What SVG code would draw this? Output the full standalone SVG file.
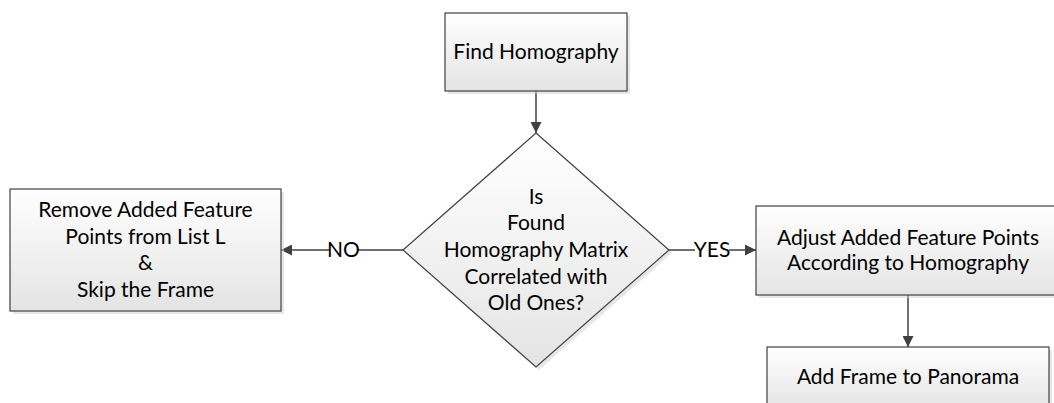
<svg xmlns="http://www.w3.org/2000/svg" width="1054" height="403" viewBox="0 0 1054 403">
  <defs>
    <linearGradient id="g" x1="0" y1="0" x2="0" y2="1">
      <stop offset="0" stop-color="#ffffff"/>
      <stop offset="1" stop-color="#e4e4e4"/>
    </linearGradient>
    <marker id="arr" viewBox="0 0 10 10" refX="10" refY="5" markerWidth="11" markerHeight="11" markerUnits="userSpaceOnUse" orient="auto">
      <path d="M0,0 L10,5 L0,10 Z" fill="#404040"/>
    </marker>
  </defs>
  <style>
    .shape { fill: url(#g); stroke: #404040; stroke-width: 1.2; }
    .shadow { fill: #d0d0d0; opacity: 0.5; }
    .t { font-family: Lato, "Open Sans", sans-serif; font-size: 21px; fill: #000; text-anchor: middle; }
    .lbl { font-family: Lato, "Open Sans", sans-serif; font-size: 21px; fill: #000; text-anchor: middle; }
    .edge { stroke: #404040; stroke-width: 1.5; fill: none; }
  </style>
  <rect width="1054" height="403" fill="#ffffff"/>

  <g id="connectors">
    <line class="edge" x1="536" y1="91" x2="536" y2="133" marker-end="url(#arr)"/>
    <line class="edge" x1="403" y1="250" x2="358" y2="250"/>
    <line class="edge" x1="329" y1="250" x2="281" y2="250" marker-end="url(#arr)"/>
    <text class="lbl" x="343.5" y="257">NO</text>
    <line class="edge" x1="669" y1="250" x2="695" y2="250"/>
    <line class="edge" x1="729" y1="250" x2="756" y2="250" marker-end="url(#arr)"/>
    <text class="lbl" x="712" y="257">YES</text>
    <line class="edge" x1="908" y1="295" x2="908" y2="347" marker-end="url(#arr)"/>
  </g>

  <g id="find">
    <rect class="shadow" x="448" y="16" width="182" height="78"/>
    <rect class="shape" x="445" y="13" width="182" height="78"/>
    <text class="t" x="536" y="59">Find Homography</text>
  </g>

  <g id="decision">
    <polygon class="shadow" points="539,136 672,253 539,370 406,253"/>
    <polygon class="shape" points="536,133 669,250 536,367 403,250"/>
    <text class="t" x="536" y="204">Is</text>
    <text class="t" x="536" y="230">Found</text>
    <text class="t" x="536" y="257">Homography Matrix</text>
    <text class="t" x="536" y="284">Correlated with</text>
    <text class="t" x="536" y="310">Old Ones?</text>
  </g>

  <g id="remove">
    <rect class="shadow" x="13" y="192" width="271" height="122"/>
    <rect class="shape" x="10" y="189" width="271" height="122"/>
    <text class="t" x="145.5" y="217">Remove Added Feature</text>
    <text class="t" x="145.5" y="244">Points from List L</text>
    <text class="t" x="145.5" y="270">&amp;</text>
    <text class="t" x="145.5" y="297">Skip the Frame</text>
  </g>

  <g id="adjust">
    <rect class="shadow" x="759" y="209" width="304" height="89"/>
    <rect class="shape" x="756" y="206" width="304" height="89"/>
    <text class="t" x="908" y="245">Adjust Added Feature Points</text>
    <text class="t" x="908" y="270">According to Homography</text>
  </g>

  <g id="addframe">
    <rect class="shadow" x="770" y="350" width="282" height="62"/>
    <rect class="shape" x="767" y="347" width="282" height="62"/>
    <text class="t" x="908" y="384">Add Frame to Panorama</text>
  </g>
</svg>
